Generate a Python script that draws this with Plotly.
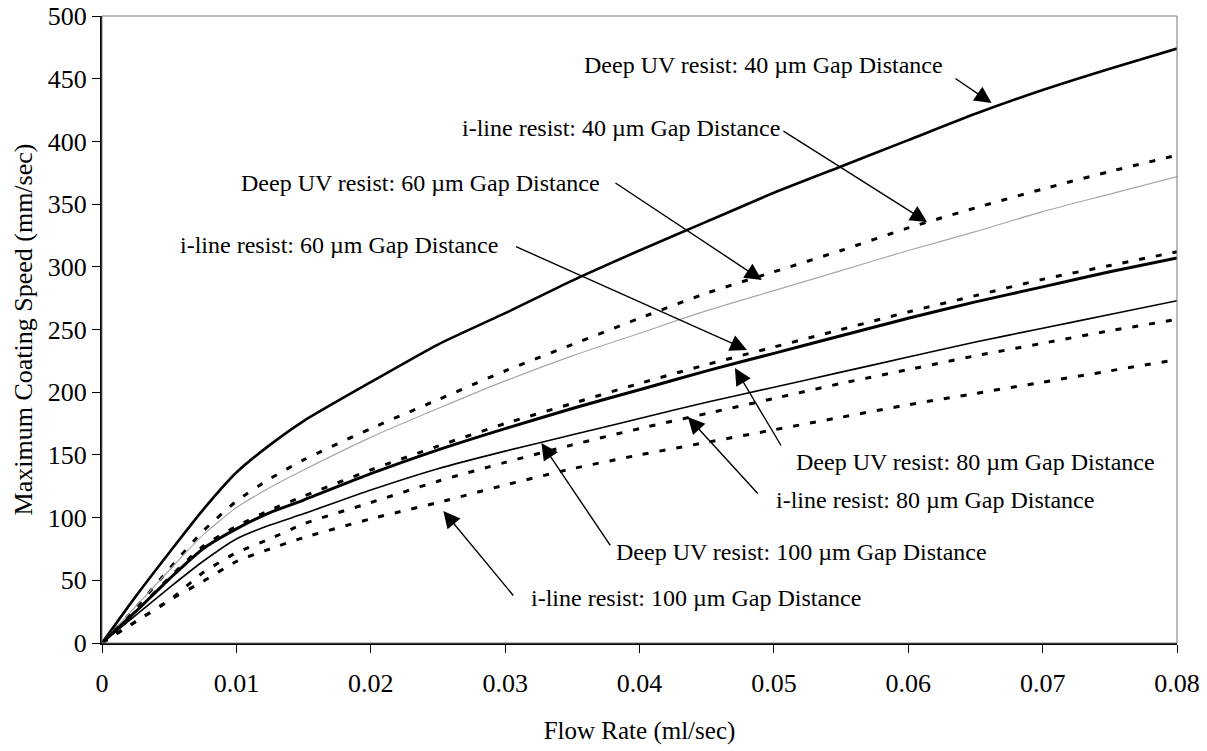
import plotly.graph_objects as go

flow = [0, 0.0025, 0.005, 0.0075, 0.01, 0.0125, 0.015, 0.02, 0.025, 0.03,
        0.035, 0.04, 0.045, 0.05, 0.055, 0.06, 0.065, 0.07, 0.075, 0.08]

duv_40 = [0, 37, 72, 106, 136, 158, 177, 208, 238, 263, 289, 313, 336, 359, 380, 401, 422, 441, 458, 474]
iline_40 = [0, 28, 59, 89, 113, 131, 146, 171, 194, 217, 238, 259, 279, 296, 313, 331, 347, 362, 376, 389]
duv_60 = [0, 29, 58, 86, 108, 124, 138, 164, 187, 209, 229, 247, 265, 281, 297, 313, 328, 344, 358, 372]
iline_60 = [0, 25, 52, 77, 93, 106, 117, 138, 157, 175, 191, 207, 222, 236, 250, 264, 277, 290, 301, 312]
duv_80 = [0, 25, 51, 75, 91, 104, 114, 135, 154, 171, 187, 202, 217, 231, 245, 259, 272, 284, 296, 307]
duv_100 = [0, 22, 44, 65, 83, 94, 103, 122, 139, 153, 166, 179, 192, 204, 216, 228, 240, 251, 262, 273]
iline_80 = [0, 17, 34, 56, 72, 83, 95, 112, 129, 144, 158, 171, 183, 195, 207, 218, 229, 239, 249, 258]
iline_100 = [0, 17, 34, 49, 65, 75, 84, 99, 112, 126, 139, 150, 160, 170, 180, 190, 199, 208, 217, 226]

x_ticks = [0, 0.01, 0.02, 0.03, 0.04, 0.05, 0.06, 0.07, 0.08]
x_tick_labels = ["0", "0.01", "0.02", "0.03", "0.04", "0.05", "0.06", "0.07", "0.08"]
y_ticks = [0, 50, 100, 150, 200, 250, 300, 350, 400, 450, 500]

labels = [
    "Deep UV resist: 40 \u00b5m Gap Distance",
    "i-line resist: 40 \u00b5m Gap Distance",
    "Deep UV resist: 60 \u00b5m Gap Distance",
    "i-line resist: 60 \u00b5m Gap Distance",
    "Deep UV resist: 80 \u00b5m Gap Distance",
    "i-line resist: 80 \u00b5m Gap Distance",
    "Deep UV resist: 100 \u00b5m Gap Distance",
    "i-line resist: 100 \u00b5m Gap Distance",
]

FONT = "Liberation Serif, Times New Roman, serif"
DASH = "6px,11px"

series = [
    (duv_40, dict(color="black", width=2.6)),
    (iline_40, dict(color="black", width=3, dash=DASH)),
    (duv_60, dict(color="#a8a8a8", width=1.2)),
    (duv_80, dict(color="black", width=3)),
    (iline_60, dict(color="black", width=3, dash=DASH)),
    (duv_100, dict(color="black", width=1.6)),
    (iline_80, dict(color="black", width=3, dash=DASH)),
    (iline_100, dict(color="black", width=3, dash=DASH)),
]

fig = go.Figure()
for ys, ln in series:
    fig.add_trace(go.Scatter(x=flow, y=ys, mode="lines", line=dict(shape="spline", smoothing=0.6, **ln),
                             showlegend=False, hoverinfo="skip"))

# label text: (x, y, anchor) and arrows: (tail_x, tail_y, head_x, head_y)
text_pos = [
    (0.0627, 461, "right"),
    (0.0506, 410.7, "right"),
    (0.0372, 366.8, "right"),
    (0.0296, 317, "right"),
    (0.0515, 144.3, "left"),
    (0.0500, 114, "left"),
    (0.0381, 72.6, "left"),
    (0.0318, 35.9, "left"),
]
arrows = [
    (0.0634, 451, 0.0662, 430.6),
    (0.0506, 409, 0.0614, 335.7),
    (0.0381, 367.6, 0.0491, 289.5),
    (0.0307, 316.6, 0.0480, 233.7),
    (0.0506, 156.3, 0.0471, 219.3),
    (0.0489, 118, 0.0436, 180.2),
    (0.0379, 76.6, 0.0327, 159.5),
    (0.0307, 36.7, 0.0254, 105.3),
]

for lab, (tx, ty, anc) in zip(labels, text_pos):
    fig.add_annotation(x=tx, y=ty, xref="x", yref="y", text=lab, showarrow=False,
                       xanchor=anc, yanchor="middle", font=dict(family=FONT, size=24, color="black"))
for (ax_, ay_, hx, hy) in arrows:
    fig.add_annotation(x=hx, y=hy, ax=ax_, ay=ay_, xref="x", yref="y", axref="x", ayref="y",
                       text="", showarrow=True, arrowhead=2, arrowsize=2.4, arrowwidth=1.4,
                       arrowcolor="black", standoff=0, startstandoff=0)

fig.add_shape(type="rect", xref="paper", yref="paper", x0=0, y0=0, x1=1, y1=1,
              line=dict(color="#777777", width=1))

fig.update_layout(
    width=1207, height=751,
    margin=dict(l=102, r=30, t=16, b=108),
    paper_bgcolor="white", plot_bgcolor="white",
    font=dict(family=FONT, size=26, color="black"),
    xaxis=dict(range=[0, 0.08], tickvals=x_ticks, ticktext=x_tick_labels, showgrid=False, zeroline=False,
               showline=True, linecolor="black", linewidth=2, ticks="outside", ticklen=8, tickwidth=1,
               tickcolor="black", ticklabelstandoff=8, automargin=False,
               title=dict(text="Flow Rate (ml/sec)", standoff=24, font=dict(family=FONT, size=25)),
               tickfont=dict(family=FONT, size=26)),
    yaxis=dict(range=[0, 500], tickvals=y_ticks, showgrid=False, zeroline=False,
               showline=True, linecolor="black", linewidth=2, ticks="outside", ticklen=8, tickwidth=1,
               tickcolor="black", automargin=False,
               title=dict(text="Maximum Coating Speed (mm/sec)", standoff=8, font=dict(family=FONT, size=26)),
               tickfont=dict(family=FONT, size=26)),
)

fig.write_html("out.html")
